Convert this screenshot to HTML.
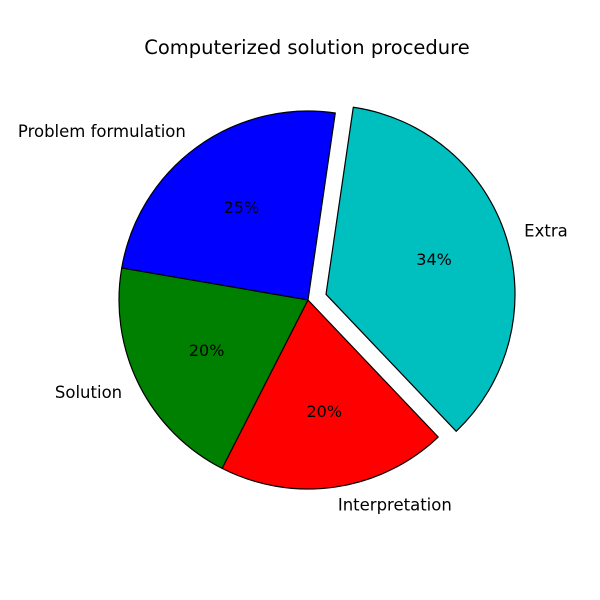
<!DOCTYPE html>
<html><head><meta charset="utf-8"><style>
body{margin:0;background:#fff}
svg{display:block;font-family:"DejaVu Sans","Liberation Sans",sans-serif}
</style></head><body>
<svg id="chart" width="600" height="600">
<rect width="600" height="600" fill="#fff"/>
<text x="307" y="54" font-size="19.5" text-anchor="middle">Computerized solution procedure</text>
<g id="slices"></g>
</svg>
<script>
const labels = ["Problem formulation","Solution","Interpretation","Extra"];
const values = [24.6,20.2,19.6,35.6];
const pctLabels = ["25%","20%","20%","34%"];
const colors = ["#0000ff","#008000","#ff0000","#00bfbf"];
const explode = [0,0,0,0.1];
const startAngle = 81.7;
const cx=308, cy=300, R=189;
const g=document.getElementById('slices');
const NS='http://www.w3.org/2000/svg';
const total=values.reduce((a,b)=>a+b,0);
let a0=startAngle;
function pt(x,y,r,deg){const t=deg*Math.PI/180;return [x+r*Math.cos(t),y-r*Math.sin(t)];}
values.forEach((v,i)=>{
  const span=v/total*360, a1=a0+span, mid=(a0+a1)/2;
  const [ox,oy]=pt(0,0,explode[i]*R,mid);
  const x=cx+ox,y=cy+oy;
  const [x0,y0]=pt(x,y,R,a0),[x1,y1]=pt(x,y,R,a1);
  const p=document.createElementNS(NS,'path');
  p.setAttribute('d',`M${x},${y} L${x0},${y0} A${R},${R} 0 ${span>180?1:0} 0 ${x1},${y1} Z`);
  p.setAttribute('fill',colors[i]);p.setAttribute('stroke','#000');p.setAttribute('stroke-width','1.2');
  p.setAttribute('stroke-linejoin','round');
  
  
  g.appendChild(p);
  const [lx,ly]=pt(x,y,R*1.1,mid);
  const t=document.createElementNS(NS,'text');
  t.setAttribute('x',lx);t.setAttribute('y',ly+5);t.setAttribute('font-size','16.5');
  t.setAttribute('text-anchor',lx<x?'end':'start');
  t.textContent=labels[i];
  
  
  g.appendChild(t);
  const [px,py]=pt(x,y,R*0.6,mid);
  const q=document.createElementNS(NS,'text');
  q.setAttribute('x',px);q.setAttribute('y',py+5);q.setAttribute('font-size','16');
  q.setAttribute('text-anchor','middle');
  q.textContent=pctLabels[i];
  
  
  g.appendChild(q);
  a0=a1;
});
</script>
</body></html>
